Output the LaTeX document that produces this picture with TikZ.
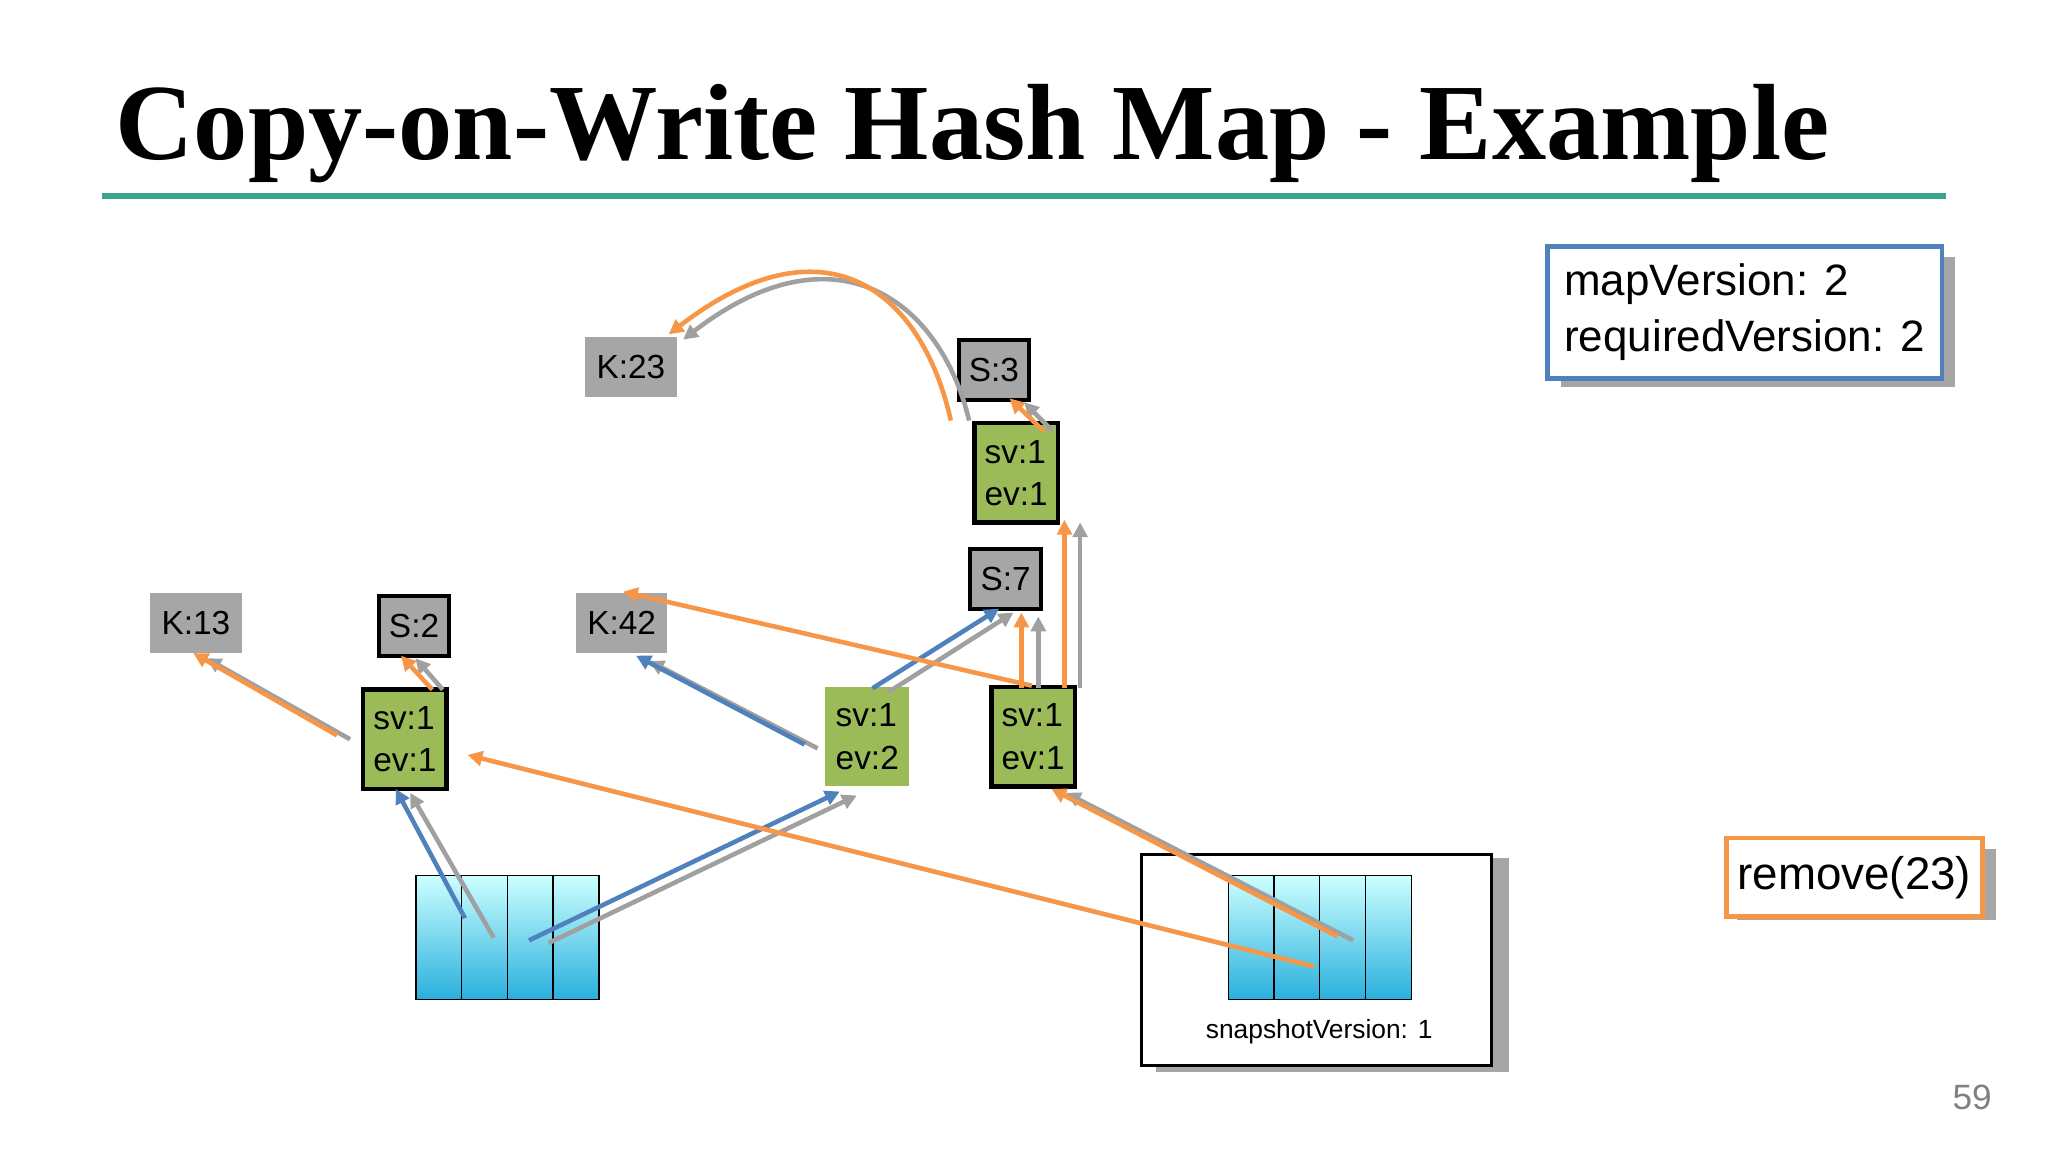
\documentclass[tikz,border=0pt]{standalone}
\usepackage{fontspec}
\setmainfont{Liberation Sans}
\newfontfamily\titlefont{Liberation Serif}
\usetikzlibrary{arrows.meta,calc}
\newlength\px \setlength\px{0.013061cm}
\definecolor{ggreen}{HTML}{9BBB59}
\definecolor{kgray}{HTML}{A6A6A6}
\definecolor{aor}{HTML}{F79646}
\definecolor{abl}{HTML}{4F81BD}
\definecolor{agr}{HTML}{A0A0A0}
\definecolor{rule}{HTML}{3AA58A}
\definecolor{cdark}{RGB}{40,175,220}
\tikzset{
 kbox/.style={fill=kgray,inner sep=0,font=\fontsize{9.5}{11}\selectfont,minimum width=70\px,minimum height=46\px},
 sbox/.style={kbox,draw=black,line width=3\px,minimum width=54\px,minimum height=46\px},
 gbox/.style={fill=ggreen,inner sep=0,font=\fontsize{9.5}{12}\selectfont,align=left,minimum width=64\px,minimum height=76\px},
 gboxb/.style={gbox,draw=black,line width=3.5\px},
 arr/.style={line width=1.3pt,-{Triangle[length=4.2pt,width=4.2pt]}},
 ao/.style={arr,aor}, ab/.style={arr,abl}, ag/.style={arr,agr},
 cell/.style={draw=black,line width=1\px,top color=cyan!20,bottom color=cdark,minimum width=35\px,minimum height=95\px,inner sep=0},
 shadow/.style={fill=kgray}
}
\begin{document}
\begin{tikzpicture}[x=0.013061cm,y=-0.013061cm]
\useasboundingbox (0,0) rectangle (1568,882);
\node[anchor=base west,inner sep=0] (title) at (88,122) {\resizebox{1312\px}{!}{\titlefont\bfseries Copy-on-Write Hash Map - Example}};
\draw[rule,line width=4\px] (78,150) -- (1490,150);
% info boxes
\fill[shadow] (1195,197) rectangle (1497,296);
\node[draw=abl,line width=3.5\px,fill=white,anchor=north west,minimum width=302\px,minimum height=101\px,align=left,inner sep=7\px,font=\fontsize{12.5}{16}\selectfont] (mv) at (1183,187) {mapVersion: 2\\requiredVersion: 2};
\fill[shadow] (1330,650) rectangle (1528,704);
\node[draw=aor,line width=3.5\px,fill=white,anchor=north west,minimum width=196\px,minimum height=60\px,inner sep=0,font=\fontsize{13}{16}\selectfont] (rm) at (1320,640) {remove(23)};
\node[text=gray,font=\fontsize{10}{12}\selectfont] (pg) at (1510,840) {59};
% snapshot box
\fill[shadow] (885,657) rectangle (1155,821);
\node[draw=black,line width=2\px,fill=white,anchor=north west,minimum width=268\px,minimum height=162\px,inner sep=0] (snap) at (873,653) {};
\node[font=\fontsize{7.5}{9}\selectfont] (sv) at (1010,790) {snapshotVersion: 1};
% arrays
\foreach \i in {0,1,2,3}{
 \node[cell,anchor=north west] (L\i) at (318+35*\i,670) {};
 \node[cell,anchor=north west] (R\i) at (940+35*\i,670) {};
}
% key/sentinel nodes
\node[kbox] (k23) at (483,281) {K:23};
\node[sbox] (s3) at (761,283) {S:3};
\node[gboxb] (gt) at (778,362) {sv:1\\ev:1};
\node[sbox] (s7) at (770,443) {S:7};
\node[kbox] (k13) at (150,477) {K:13};
\node[sbox] (s2) at (317,479) {S:2};
\node[kbox] (k42) at (476,477) {K:42};
\node[gboxb] (gl) at (310,566) {sv:1\\ev:1};
\node[gbox] (gm) at (664,564) {sv:1\\ev:2};
\node[gboxb] (gr) at (791,564) {sv:1\\ev:1};
% arrows
\draw[ag] (742,322) .. controls (720,230) and (640,170) .. (523,260);
\draw[ao] (728,322) .. controls (705,220) and (630,165) .. (512,256);
\draw[ag] (806,330) -- (784,308);
\draw[ao] (799,330) -- (773,305);
\draw[ag] (827,527) -- (827,400);
\draw[ao] (815,527) -- (815,398);
\draw[ag] (795,527) -- (795,472);
\draw[ao] (782,527) -- (782,469);
\draw[ag] (680,530) -- (776,469);
\draw[ab] (668,527) -- (765,466);
\draw[ao] (790,525) -- (477,453);
\draw[ag] (626,573) -- (497,506);
\draw[ab] (616,570) -- (487,502);
\draw[ag] (268,566) -- (158,504);
\draw[ao] (258,563) -- (148,500);
\draw[ag] (339,528) -- (318,504);
\draw[ao] (331,528) -- (307,502);
\draw[ag] (378,718) -- (314,607);
\draw[ab] (356,703) -- (303,604);
\draw[ag] (420,722) -- (656,609);
\draw[ab] (405,720) -- (643,606);
\draw[ao] (1006,740) -- (358,578);
\draw[ag] (1036,720) -- (816,607);
\draw[ao] (1024,717) -- (805,604);
\end{tikzpicture}
\end{document}
